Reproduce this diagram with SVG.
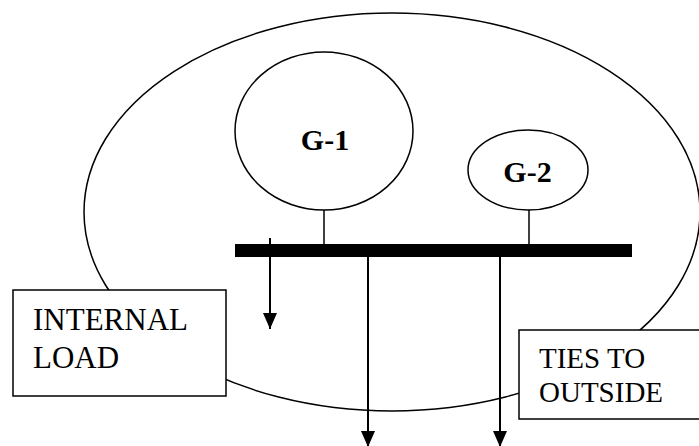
<svg xmlns="http://www.w3.org/2000/svg" width="699" height="446" viewBox="0 0 699 446">
<style>
.ln{fill:none;stroke:#000;stroke-width:1.5}
.ar{fill:none;stroke:#000;stroke-width:2}
.box{fill:#fff;stroke:#000;stroke-width:1.5}
.gen{fill:#fff;stroke:#000;stroke-width:1.5}
</style>
<defs>
<marker id="ah" markerUnits="userSpaceOnUse" markerWidth="16" markerHeight="14" refX="16" refY="7" orient="auto">
<path d="M0,0 L16,7 L0,14 Z" fill="#000"/>
</marker>
</defs>
<g id="area"><ellipse cx="392" cy="212" rx="308" ry="199" class="ln"/></g>
<g id="connectors">
<line x1="324" y1="210" x2="324" y2="245" class="ln"/>
<line x1="529" y1="210" x2="529" y2="245" class="ln"/>
<line x1="270" y1="238" x2="270" y2="329" class="ar" marker-end="url(#ah)"/>
<line x1="368" y1="257" x2="368" y2="447" class="ar" marker-end="url(#ah)"/>
<line x1="500" y1="257" x2="500" y2="447" class="ar" marker-end="url(#ah)"/>
</g>
<g id="bus"><rect x="235" y="244" width="397" height="13" fill="#000"/></g>
<g font-family="Liberation Serif, DejaVu Serif, serif">
<g id="g1"><ellipse cx="324" cy="131" rx="89" ry="79" class="gen"/><text x="325" y="150" font-size="30" font-weight="bold" text-anchor="middle">G-1</text></g>
<g id="g2"><ellipse cx="528" cy="170" rx="60" ry="40" class="gen"/><text x="527.5" y="182" font-size="30" font-weight="bold" text-anchor="middle">G-2</text></g>
<g id="internal-load"><rect x="13" y="290" width="213" height="106" class="box"/><text font-size="31" x="33" y="330">INTERNAL</text><text font-size="31" x="33" y="368">LOAD</text></g>
<g id="ties"><rect x="519" y="330" width="185" height="89" class="box"/><text x="539" y="368" font-size="29">TIES TO</text><text x="539" y="402" font-size="29">OUTSIDE</text></g>
</g>
</svg>
